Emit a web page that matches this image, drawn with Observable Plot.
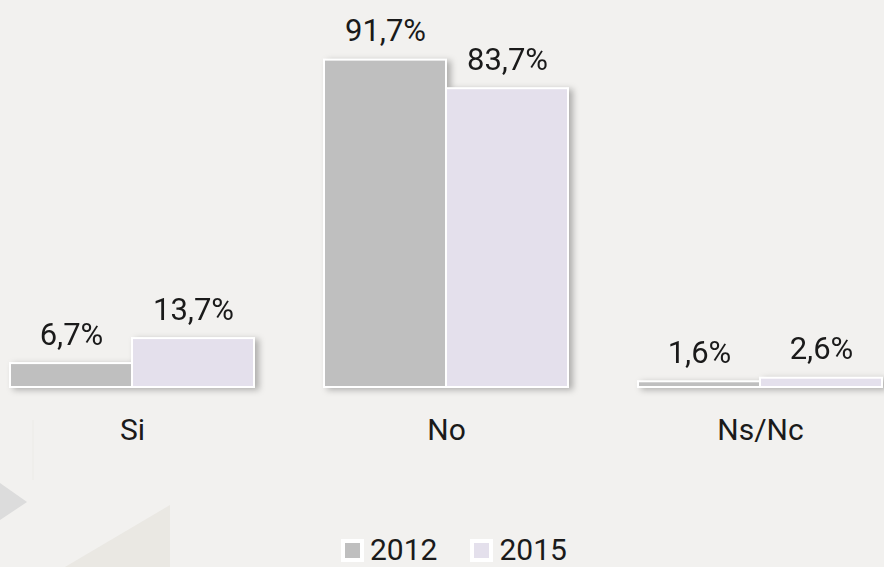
<!DOCTYPE html>
<html>
<head>
<meta charset="utf-8">
<script src="https://cdn.jsdelivr.net/npm/d3@7"></script>
<script src="https://cdn.jsdelivr.net/npm/@observablehq/plot@0.6"></script>
<style>
  html, body { margin: 0; padding: 0; background: #f2f1ef; }
  #wrap { position: relative; width: 884px; height: 567px; overflow: hidden; font-family: Roboto, sans-serif; color: #1a1a1a; }
  #deco { position: absolute; left: 0; top: 0; z-index: 0; }
  #chart { position: absolute; left: 0; top: 0; z-index: 1; }
  #chart g[aria-label="bar"] { filter: drop-shadow(4px 2px 3px rgba(0,0,0,0.28)); }
  #legend { position: absolute; left: 343px; top: 535px; z-index: 2; }
  #legend > div { min-height: 0 !important; margin: 0 !important; }
  .lg-swatch { margin-right: 35px !important; font-size: 30px; line-height: 30px; height: 30px; }
  .lg-swatch > svg { margin-right: 8px !important; }
  .lg-swatch > svg rect { stroke: #ffffff; stroke-width: 4px; }
</style>
</head>
<body>
<div id="wrap">
  <svg id="deco" width="884" height="567">
    <polygon points="0,483 27,502 0,520" fill="#dcdcdc"/>
    <polygon points="65,567 170,505 170,567" fill="#eae8e3"/>
    <rect x="32" y="420" width="2" height="60" fill="#efeeeb"/>
  </svg>
  <div id="chart"></div>
  <div id="legend"></div>
</div>
<script>
const categories = ["Si", "No", "Ns/Nc"];
const years = ["2012", "2015"];
const values2012 = [6.7, 91.7, 1.6];
const values2015 = [13.7, 83.7, 2.6];
const colors = ["#bfbfbf", "#e4e0ec"];

const data = [];
categories.forEach((c, i) => {
  data.push({category: c, year: years[0], value: values2012[i]});
  data.push({category: c, year: years[1], value: values2015[i]});
});
const fmt = v => v.toFixed(1).replace(".", ",") + "%";

const chart = Plot.plot({
  width: 884,
  height: 460,
  marginLeft: 10,
  marginRight: 2,
  marginTop: 30,
  marginBottom: 73,
  style: {background: "transparent", fontFamily: "Roboto, sans-serif", color: "#1a1a1a", overflow: "visible"},
  fx: {domain: categories, paddingInner: 0.223, paddingOuter: 0, label: null},
  x: {domain: years, padding: 0, axis: null},
  y: {domain: [0, 100], axis: null},
  color: {domain: years, range: colors},
  marks: [
    Plot.barY(data, {fx: "category", x: "year", y: "value", fill: "year", stroke: "white", strokeWidth: 2}),
    Plot.text(data, {fx: "category", x: "year", y: "value", text: d => fmt(d.value), dy: -19, lineAnchor: "bottom", fontSize: 31, fill: "#1a1a1a"}),
    Plot.axisFx({anchor: "bottom", tickSize: 0, tickPadding: 31, fontSize: 30, label: null, fill: "#1a1a1a"})
  ]
});
document.getElementById("chart").appendChild(chart);

const legend = Plot.legend({
  color: {domain: years, range: colors},
  swatchSize: 19,
  className: "lg",
  style: {fontFamily: "Roboto, sans-serif", fontSize: "30px", color: "#1a1a1a", background: "transparent"}
});
document.getElementById("legend").appendChild(legend);
</script>
</body>
</html>
